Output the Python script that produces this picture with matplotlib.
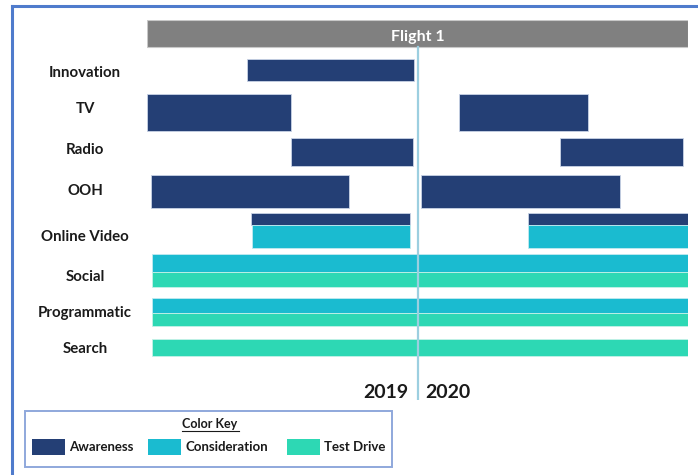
import matplotlib.pyplot as plt
from matplotlib.patches import Rectangle

## channel rows and flight timing (weeks from start of flight, 52 week flight)
channels = ['Innovation', 'TV', 'Radio', 'OOH', 'Online Video', 'Social', 'Programmatic', 'Search']

awareness_rows = ['Innovation', 'TV', 'TV', 'Radio', 'Radio', 'OOH', 'OOH', 'Online Video', 'Online Video']
awareness_start = [9.6, 0.0, 30.0, 13.8, 39.7, 0.4, 26.3, 10.0, 36.6]
awareness_end = [25.7, 13.8, 42.4, 25.6, 51.5, 19.4, 45.5, 25.3, 52.0]

consideration_rows = ['Online Video', 'Online Video', 'Social', 'Programmatic']
consideration_start = [10.1, 36.6, 0.5, 0.5]
consideration_end = [25.3, 52.0, 52.0, 52.0]

testdrive_rows = ['Social', 'Programmatic', 'Search']
testdrive_start = [0.5, 0.5, 0.5]
testdrive_end = [52.0, 52.0, 52.0]

flight_start, flight_end = 0, 52
year_split = 26
years = ['2019', '2020']

## layout: where each row's bars sit (top edge, in row units) and their heights
label_y = [0.07, 0.98, 2.02, 3.06, 4.22, 5.23, 6.14, 7.05]
aw_top = {'Innovation': -0.28, 'TV': 0.61, 'Radio': 1.72, 'OOH': 2.64, 'Online Video': 3.61}
aw_h = {'Innovation': 0.56, 'TV': 0.93, 'Radio': 0.71, 'OOH': 0.85, 'Online Video': 0.30}
co_top = {'Online Video': 3.91, 'Social': 4.65, 'Programmatic': 5.76}
co_h = {'Online Video': 0.58, 'Social': 0.45, 'Programmatic': 0.38}
td_top = {'Social': 5.10, 'Programmatic': 6.14, 'Search': 6.79}
td_h = {'Social': 0.38, 'Programmatic': 0.33, 'Search': 0.43}

c_aw = '#243f75'
c_co = '#1abbd0'
c_td = '#2dd8b4'
frame_blue = '#4f7bcc'
font = 'Lato'

fig = plt.figure(figsize=(6.98, 4.75), dpi=100)

## slide frame (left and top border)
fig.add_artist(plt.Line2D([12/698, 12/698], [0, 1 - 6/475], color=frame_blue, lw=2.2))
fig.add_artist(plt.Line2D([12/698, 1], [1 - 6/475, 1 - 6/475], color=frame_blue, lw=2.2))

ax = fig.add_axes([147/698, 75/475, 541/698, 380/475])
ax.set_xlim(flight_start, flight_end)
ax.set_ylim(8.33, -1.26)
ax.axis('off')

# flight header
ax.barh(-0.92, flight_end - flight_start, left=flight_start, height=0.66,
        color='#808080', edgecolor='#c8c8c8', lw=0.8)
ax.text((flight_start + flight_end) / 2, -0.84, 'Flight 1', color='white',
        fontsize=11.5, fontweight='bold', family=font, ha='center', va='center')

# year divider
ax.plot([year_split, year_split], [-0.58, 8.33], color='#9ccfe0', lw=1.6, zorder=5)

for r, s, e in zip(awareness_rows, awareness_start, awareness_end):
    ax.barh(aw_top[r] + aw_h[r] / 2, e - s, left=s, height=aw_h[r],
            color=c_aw, edgecolor='#c9d3e6', lw=0.6)
for r, s, e in zip(consideration_rows, consideration_start, consideration_end):
    ax.barh(co_top[r] + co_h[r] / 2, e - s, left=s, height=co_h[r],
            color=c_co, edgecolor='#c2eaf0', lw=0.6)
for r, s, e in zip(testdrive_rows, testdrive_start, testdrive_end):
    ax.barh(td_top[r] + td_h[r] / 2, e - s, left=s, height=td_h[r],
            color=c_td, edgecolor='#c5f2e8', lw=0.6)

for name, y in zip(channels, label_y):
    ax.text(-5.96, y, name, fontsize=10.8, fontweight='bold', family=font,
            color='#1a1a1a', ha='center', va='center', clip_on=False)

ax.text(year_split - 0.85, 8.15, years[0], fontsize=14, fontweight='bold',
        family=font, color='#1a1a1a', ha='right', va='center')
ax.text(year_split + 0.75, 8.15, years[1], fontsize=14, fontweight='bold',
        family=font, color='#1a1a1a', ha='left', va='center')

## color key box
fig.add_artist(Rectangle((25/698, 1 - 467/475), 367/698, 56/475, fill=False,
                         edgecolor='#8fa8dc', lw=1.4, transform=fig.transFigure))
fig.text(210/698, 1 - 424/475, 'Color Key', fontsize=9, fontweight='bold',
         family=font, color='#1a1a1a', ha='center', va='center')
fig.add_artist(plt.Line2D([182/698, 239/698], [1 - 431/475, 1 - 431/475], color='#1a1a1a', lw=0.8))

key_names = ['Awareness', 'Consideration', 'Test Drive']
key_cols = [c_aw, c_co, c_td]
key_x = [32, 148, 287]
for name, col, kx in zip(key_names, key_cols, key_x):
    fig.add_artist(Rectangle((kx/698, 1 - 455/475), 33/698, 16/475, facecolor=col,
                             edgecolor='none', transform=fig.transFigure))
    fig.text((kx + 37)/698, 1 - 447/475, name, fontsize=9.5, fontweight='bold',
             family=font, color='#1a1a1a', ha='left', va='center')

fig.savefig('out.png', dpi=100)
